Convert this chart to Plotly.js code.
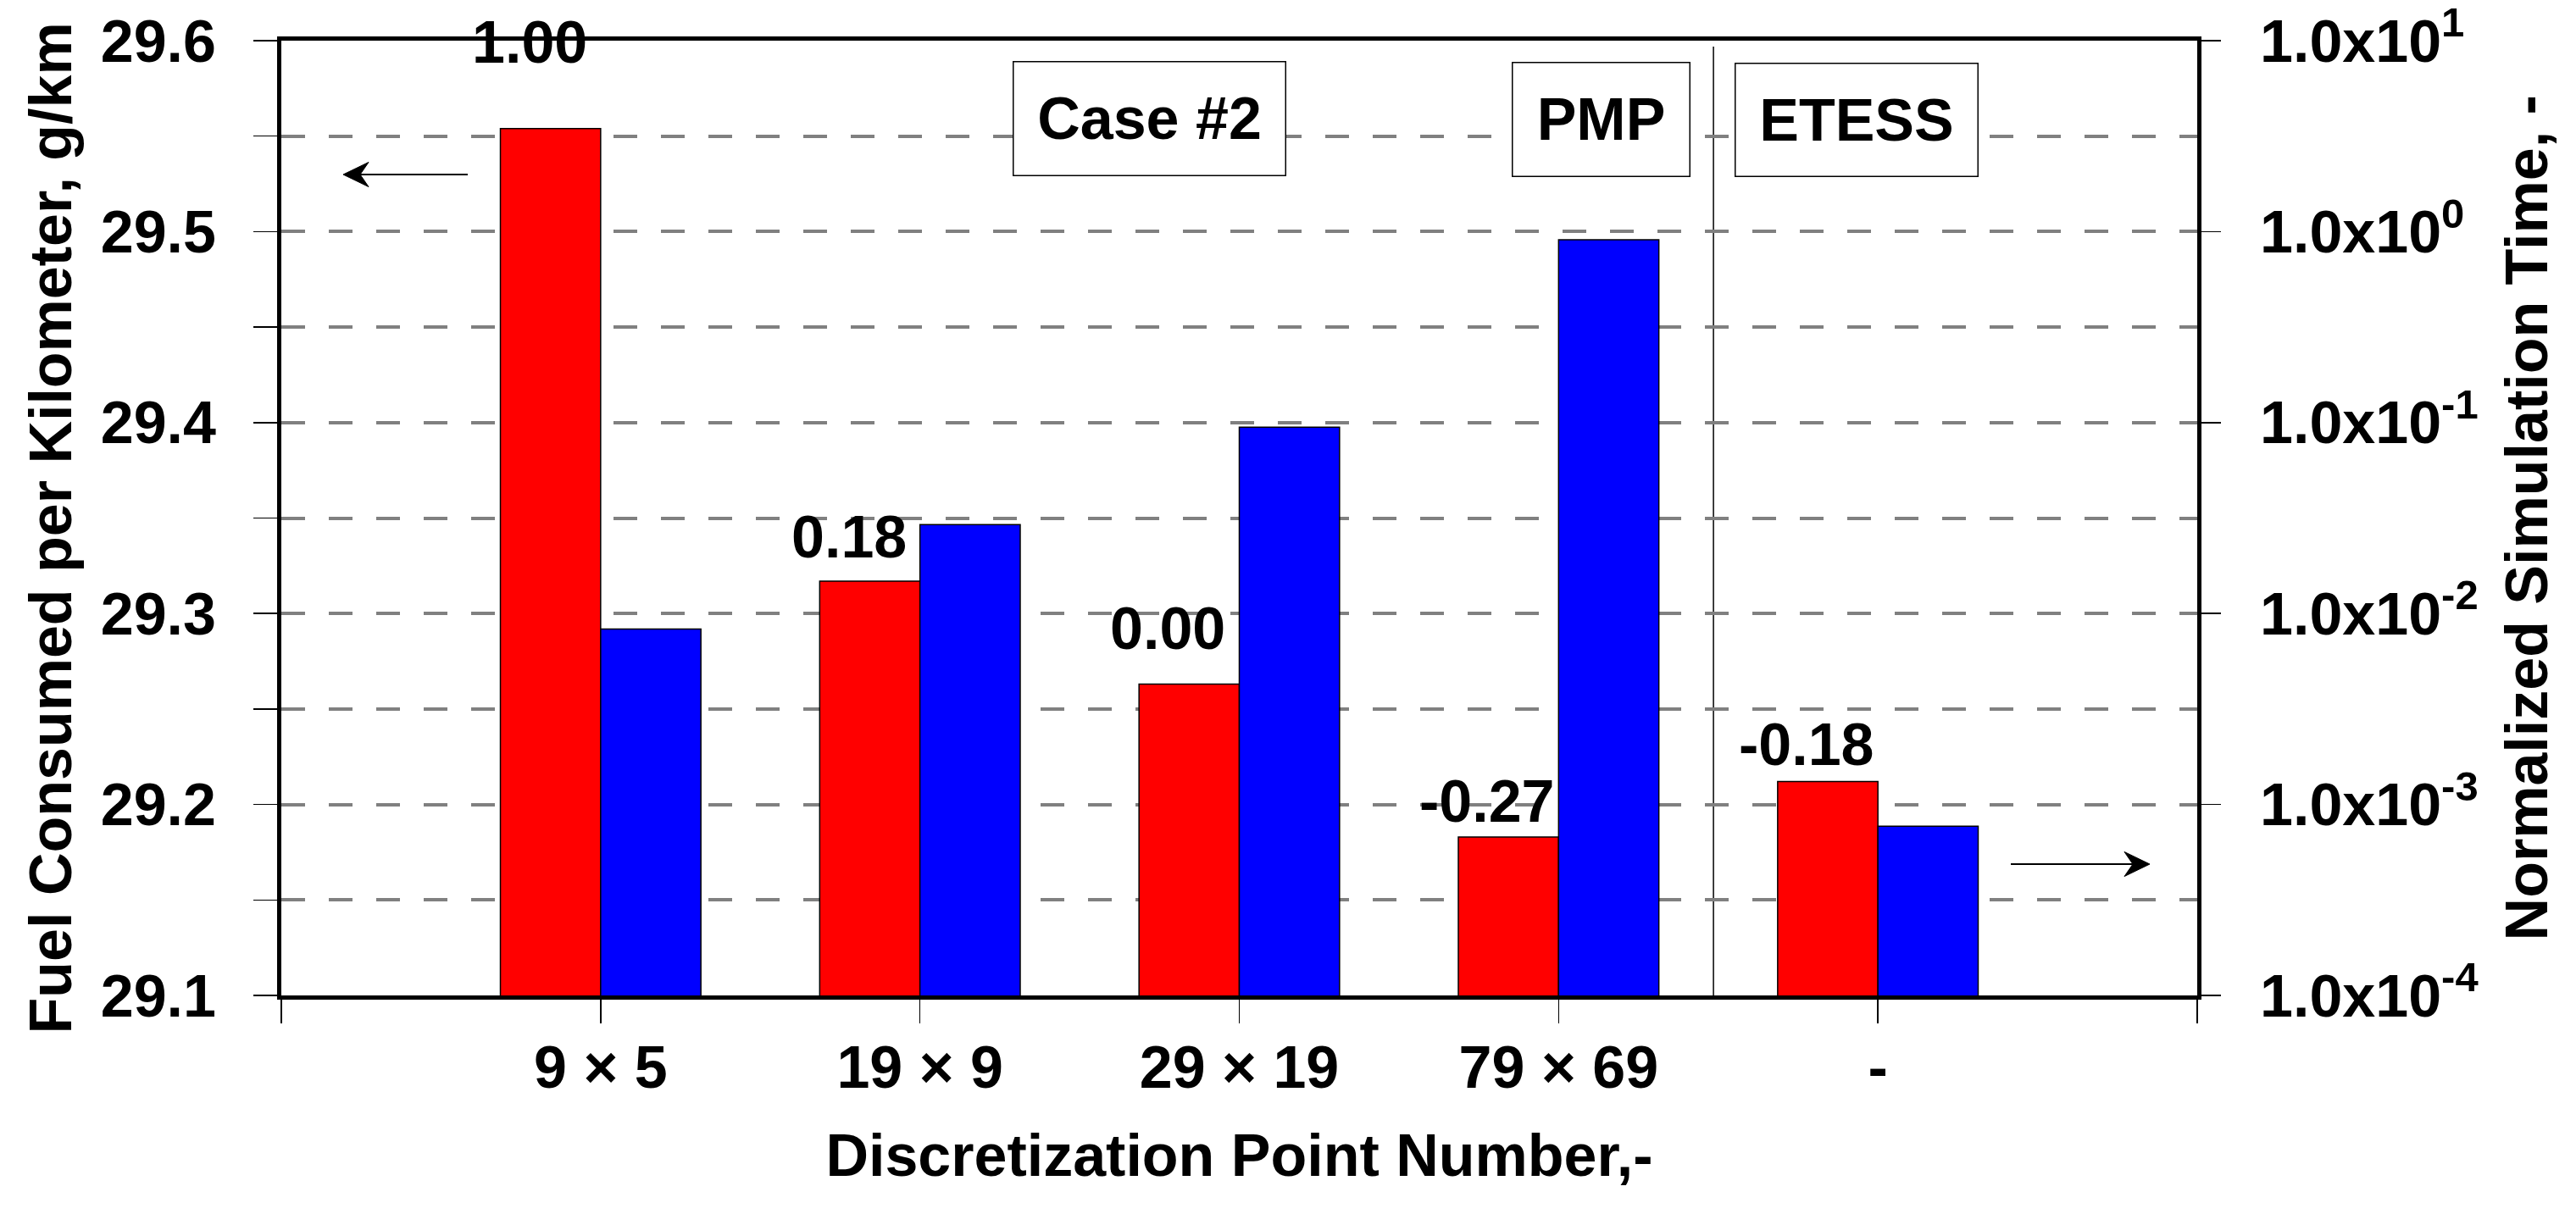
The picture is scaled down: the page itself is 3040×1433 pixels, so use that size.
<!DOCTYPE html>
<html>
<head>
<meta charset="utf-8">
<script src="https://cdn.plot.ly/plotly-3.0.1.min.js"></script>
<style>
  html, body { margin: 0; padding: 0; background: #ffffff; }
  #chart { width: 3040px; height: 1433px; }
</style>
</head>
<body>
<div id="chart"></div>
<script>
// ---- data ----
const categories = ["9 \u00d7 5", "19 \u00d7 9", "29 \u00d7 19", "79 \u00d7 69", "-"];
const fuelConsumed = [29.554, 29.317, 29.263, 29.183, 29.212];      // g/km (left axis)
const normSimTime = [0.0083, 0.0292, 0.0946, 0.906, 0.00077];      // normalized (right log axis)
const fuelLabels = ["1.00", "0.18", "0.00", "-0.27", "-0.18"];
const rightTickVals = [1e-4, 1e-3, 1e-2, 1e-1, 1e0, 1e1];
const rightTickText = ["1.0x10<sup>-4</sup>", "1.0x10<sup>-3</sup>", "1.0x10<sup>-2</sup>",
                       "1.0x10<sup>-1</sup>", "1.0x10<sup>0</sup>", "1.0x10<sup>1</sup>"];
const boxLabels = ["Case #2", "PMP", "ETESS"];
const xTitle = "Discretization Point Number,-";
const yTitleLeft = "Fuel Consumed per Kilometer, g/km";
const yTitleRight = "Normalized Simulation Time, -";

// ---- derived positions ----
const xPos = categories.map((c, i) => i + 1);
const BW = 0.314;

const FONT = "Liberation Sans, Arial, Helvetica, sans-serif";
const fontBold = (size) => ({ family: FONT, size: size, color: "#000000", weight: "bold" });

const traces = [
  {
    type: "bar", x: xPos, y: fuelConsumed, yaxis: "y",
    width: BW, offset: -BW,
    marker: { color: "#FF0000", line: { color: "#000000", width: 1.5 } },
    hoverinfo: "skip", showlegend: false
  },
  {
    type: "bar", x: xPos, y: normSimTime, yaxis: "y2",
    width: BW, offset: 0,
    marker: { color: "#0000FF", line: { color: "#000000", width: 1.5 } },
    hoverinfo: "skip", showlegend: false
  }
];

const labelShift = [61, 11, 25, 1, 3];
const annotations = fuelLabels.map((t, i) => ({
  text: t, x: xPos[i] - BW / 2, xshift: -25, y: fuelConsumed[i],
  xref: "x", yref: "y", xanchor: "center", yanchor: "bottom",
  yshift: labelShift[i], showarrow: false, font: fontBold(70)
}));

// boxed labels
const boxDefs = [
  { x: 0.4531, y: 0.9184, w: 320, h: 133 },
  { x: 0.6889, y: 0.9175, w: 208, h: 133 },
  { x: 0.8222, y: 0.9170, w: 285, h: 132 }
];
boxLabels.forEach((t, i) => {
  const b = boxDefs[i];
  annotations.push({
    text: t, x: b.x, y: b.y, xref: "paper", yref: "paper",
    xanchor: "center", yanchor: "middle", width: b.w, height: b.h,
    bgcolor: "#ffffff", bordercolor: "#000000", borderwidth: 1.5, borderpad: 0,
    showarrow: false, font: fontBold(70)
  });
});

// vertical axis titles as rotated annotations
annotations.push({
  text: yTitleLeft, x: -0.1205, y: 0.489, xref: "paper", yref: "paper",
  xanchor: "center", yanchor: "middle", textangle: -90, showarrow: false,
  font: fontBold(70)
});
annotations.push({
  text: yTitleRight, x: 1.172, y: 0.500, xref: "paper", yref: "paper",
  xanchor: "center", yanchor: "middle", textangle: -90, showarrow: false,
  font: fontBold(70)
});

// ---- arrows drawn as shapes (pixel geometry -> paper coords) ----
const PL = 332, PT = 48, PW = 2261, PH = 1127;
const px2x = (px) => (px - PL) / PW;
const py2y = (py) => (PT + PH - py) / PH;
function arrowShapes(tipX, tailX, yPix) {
  const dir = tailX > tipX ? 1 : -1;
  const back = tipX + dir * 30, notch = tipX + dir * 20;
  const head = "M " + px2x(tipX) + " " + py2y(yPix) +
               " L " + px2x(back) + " " + py2y(yPix - 14.5) +
               " L " + px2x(notch) + " " + py2y(yPix) +
               " L " + px2x(back) + " " + py2y(yPix + 14.5) + " Z";
  return [
    { type: "line", xref: "paper", yref: "paper",
      x0: px2x(notch), x1: px2x(tailX), y0: py2y(yPix), y1: py2y(yPix),
      line: { color: "#000000", width: 1.8 }, layer: "above" },
    { type: "path", xref: "paper", yref: "paper", path: head,
      fillcolor: "#000000", line: { color: "#000000", width: 1 }, layer: "above" }
  ];
}

const shapes = [
  {
    type: "line", xref: "x", yref: "paper",
    x0: 4.485, x1: 4.485, y0: 0, y1: 0.9938,
    line: { color: "#000000", width: 1.5 }, layer: "between"
  }
].concat(arrowShapes(405, 552, 206), arrowShapes(2537, 2373, 1020));

const gridStyle = { gridcolor: "#808080", gridwidth: 4, griddash: "28px,28px" };

const layout = {
  width: 3040, height: 1433,
  margin: { l: 332, r: 447, t: 48, b: 258 },
  paper_bgcolor: "#ffffff", plot_bgcolor: "#ffffff",
  showlegend: false,
  xaxis: {
    range: [0, categories.length + 1],
    tickmode: "array", tickvals: xPos, ticktext: categories,
    ticks: "outside", ticklen: 28, tickwidth: 1.5, tickcolor: "#000000",
    minor: { tickmode: "linear", tick0: 0, dtick: 1, ticks: "outside",
             ticklen: 28, tickwidth: 1.5, tickcolor: "#000000", showgrid: false },
    showline: true, linewidth: 5, linecolor: "#000000", mirror: true,
    showgrid: false, zeroline: false, ticklabeloverflow: "allow",
    tickfont: fontBold(70), ticklabelstandoff: -8,
    title: { text: xTitle, font: fontBold(70), standoff: 42 }
  },
  yaxis: {
    range: [29.1, 29.6],
    tickmode: "linear", tick0: 29.1, dtick: 0.1, tickformat: ".1f",
    ticks: "outside", ticklen: 28, tickwidth: 1.5, tickcolor: "#000000",
    minor: Object.assign({ tickmode: "linear", tick0: 29.1, dtick: 0.05, ticks: "outside",
             ticklen: 28, tickwidth: 1.5, tickcolor: "#000000", showgrid: true }, gridStyle),
    showline: true, linewidth: 5, linecolor: "#000000", mirror: true,
    showgrid: true, gridcolor: gridStyle.gridcolor, gridwidth: gridStyle.gridwidth,
    griddash: gridStyle.griddash,
    zeroline: false, ticklabeloverflow: "allow",
    tickfont: fontBold(70), ticklabelstandoff: 30
  },
  yaxis2: {
    type: "log", range: [-4, 1], overlaying: "y", side: "right",
    tickmode: "array", tickvals: rightTickVals, ticktext: rightTickText,
    ticks: "outside", ticklen: 27, tickwidth: 1.5, tickcolor: "#000000",
    showline: false, showgrid: false, zeroline: false, ticklabeloverflow: "allow",
    tickfont: fontBold(70), ticklabelstandoff: 32
  },
  shapes: shapes,
  annotations: annotations
};

Plotly.newPlot("chart", traces, layout, { staticPlot: true, displayModeBar: false });
</script>
</body>
</html>
